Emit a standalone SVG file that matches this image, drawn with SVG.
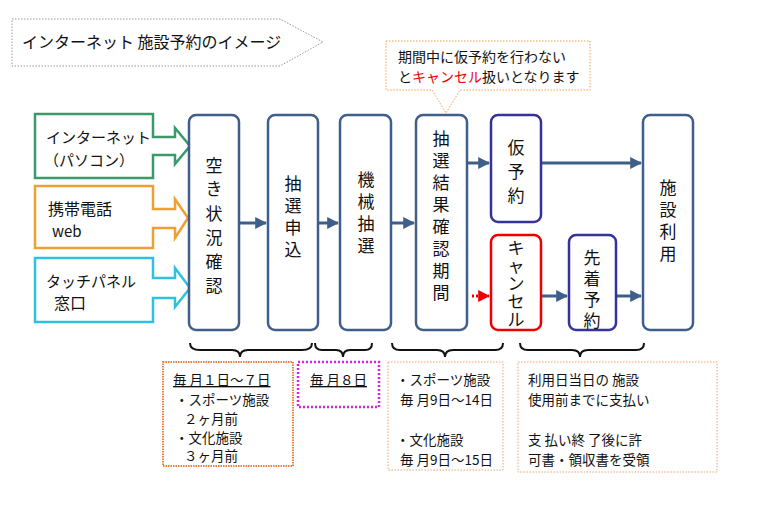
<svg xmlns="http://www.w3.org/2000/svg" width="771" height="506" viewBox="0 0 771 506">
<defs>
<style>
text{font-family:"Noto Sans CJK JP","Liberation Sans",sans-serif;fill:#111}
.tb{fill:#fff;stroke:#3f5f8a;stroke-width:2.5}
.v{font-size:17px;text-anchor:middle}
.c{stroke:#3f5f8a;stroke-width:3;fill:none}
.s{font-size:13.5px}
.br{fill:none;stroke:#111;stroke-width:2}
</style>
<marker id="ah" viewBox="0 0 10 10" refX="9" refY="5" markerWidth="4" markerHeight="4" orient="auto"><path d="M0,0L10,5L0,10Z" fill="#3f5f8a"/></marker>
<marker id="ar" viewBox="0 0 10 10" refX="9" refY="5" markerWidth="4" markerHeight="4" orient="auto"><path d="M0,0L10,5L0,10Z" fill="#e00"/></marker>
</defs>
<rect width="771" height="506" fill="#fff"/>
<g id="title">
<path d="M12,19H280L323,42L280,66H12Z" fill="#fff" stroke="#999" stroke-dasharray="1.5,1.5"/>
<text x="22" y="48" font-size="16">インターネット 施設予約のイメージ</text>
</g>
<g id="callout">
<path d="M386,41H590V90H460L446,113L432,90H386Z" fill="#fff" stroke="#f0a050" stroke-dasharray="1.5,1.5"/>
<text x="398" y="62" font-size="14">期間中に仮予約を行わない</text>
<text x="398" y="82" font-size="14">と<tspan fill="#e00">キャンセル</tspan>扱いとなります</text>
</g>
<g id="internet">
<path d="M35,114H153V137H175V128L190,146L175,164V155H153V178H35Z" fill="#fff" stroke="#3a9a6a" stroke-width="2.5"/>
<text x="46" y="143" font-size="15">インターネット</text><text x="44" y="166" font-size="15">（パソコン）</text>
</g>
<g id="mobile">
<path d="M35,186H153V209H175V199L188,218L175,238V228H153V248H35Z" fill="#fff" stroke="#f0a030" stroke-width="2.5"/>
<text x="48" y="215" font-size="16">携帯電話</text><text x="52" y="237" font-size="15">web</text>
</g>
<g id="touch">
<path d="M35,258H153V278H175V268L190,288L175,307V298H153V322H35Z" fill="#fff" stroke="#30c0e0" stroke-width="2.5"/>
<text x="46" y="287" font-size="15">タッチパネル</text><text x="54" y="309" font-size="16">窓口</text>
</g>
<g id="connectors">
<line class="c" x1="239" y1="223" x2="266" y2="223" marker-end="url(#ah)"/>
<line class="c" x1="318" y1="223" x2="338" y2="223" marker-end="url(#ah)"/>
<line class="c" x1="391" y1="223" x2="414" y2="223" marker-end="url(#ah)"/>
<line class="c" x1="467" y1="163" x2="489" y2="163" marker-end="url(#ah)"/>
<line class="c" x1="541" y1="163" x2="641" y2="163" marker-end="url(#ah)"/>
<line x1="472" y1="296" x2="489" y2="296" stroke="#e00" stroke-width="3" stroke-dasharray="2,2" marker-end="url(#ar)"/>
<line class="c" x1="541" y1="296" x2="567" y2="296" marker-end="url(#ah)"/>
<line class="c" x1="616" y1="296" x2="641" y2="296" marker-end="url(#ah)"/>
</g>
<g id="n1"><rect class="tb" x="189" y="115" width="50" height="215" rx="7"/>
<text class="v" x="214"><tspan x="214" y="172">空</tspan><tspan x="214" y="195">き</tspan><tspan x="214" y="220">状</tspan><tspan x="214" y="244">況</tspan><tspan x="214" y="268">確</tspan><tspan x="214" y="292">認</tspan></text></g>
<g id="n2"><rect class="tb" x="268" y="115" width="50" height="215" rx="7"/>
<text class="v"><tspan x="293" y="190">抽</tspan><tspan x="293" y="212">選</tspan><tspan x="293" y="234">申</tspan><tspan x="293" y="256">込</tspan></text></g>
<g id="n3"><rect class="tb" x="340" y="115" width="51" height="215" rx="7"/>
<text class="v"><tspan x="366" y="186">機</tspan><tspan x="366" y="208">械</tspan><tspan x="366" y="230">抽</tspan><tspan x="366" y="252">選</tspan></text></g>
<g id="n4"><rect class="tb" x="416" y="115" width="51" height="215" rx="7"/>
<text class="v"><tspan x="441" y="145">抽</tspan><tspan x="441" y="167">選</tspan><tspan x="441" y="189">結</tspan><tspan x="441" y="211">果</tspan><tspan x="441" y="233">確</tspan><tspan x="441" y="255">認</tspan><tspan x="441" y="277">期</tspan><tspan x="441" y="299">間</tspan></text></g>
<g id="n5"><rect x="491" y="115" width="50" height="107" rx="7" fill="#fff" stroke="#333399" stroke-width="2.5"/>
<text class="v" font-size="21"><tspan x="516" y="154">仮</tspan><tspan x="516" y="178">予</tspan><tspan x="516" y="202">約</tspan></text></g>
<g id="n6"><rect x="491" y="235" width="50" height="95" rx="7" fill="#fff" stroke="#e00" stroke-width="2.5"/>
<text class="v" font-size="16"><tspan x="516" y="254">キ</tspan><tspan x="516" y="272">ャ</tspan><tspan x="516" y="290">ン</tspan><tspan x="516" y="308">セ</tspan><tspan x="516" y="326">ル</tspan></text></g>
<g id="n7"><rect x="569" y="235" width="47" height="95" rx="7" fill="#fff" stroke="#333399" stroke-width="2.5"/>
<text class="v"><tspan x="592" y="264">先</tspan><tspan x="592" y="285">着</tspan><tspan x="592" y="306">予</tspan><tspan x="592" y="327">約</tspan></text></g>
<g id="n8"><rect class="tb" x="643" y="115" width="50" height="215" rx="7"/>
<text class="v"><tspan x="668" y="194">施</tspan><tspan x="668" y="216">設</tspan><tspan x="668" y="238">利</tspan><tspan x="668" y="260">用</tspan></text></g>
<g id="braces">
<path class="br" d="M190,343Q190,350 200,350H232Q240,350 240,357Q240,350 248,350H302Q312,350 312,343"/>
<path class="br" d="M315,343Q315,350 322,350H336Q343,350 343,357Q343,350 350,350H365Q372,350 372,343"/>
<path class="br" d="M392,343Q392,350 400,350H437Q445,350 445,357Q445,350 453,350H495Q503,350 503,343"/>
<path class="br" d="M520,343Q520,350 528,350H572Q580,350 580,357Q580,350 588,350H636Q644,350 644,343"/>
</g>
<g id="b1"><rect x="163" y="362" width="130" height="104" fill="#fff" stroke="#f08040" stroke-width="2" stroke-dasharray="1.5,1"/>
<text class="s" x="173" y="385" text-decoration="underline">毎 月１日～７日</text>
<text class="s" x="175" y="405">・スポーツ施設</text><text class="s" x="184" y="424">２ヶ月前</text>
<text class="s" x="175" y="443">・文化施設</text><text class="s" x="184" y="461">３ヶ月前</text></g>
<g id="b2"><rect x="298" y="362" width="81" height="45" fill="#fff" stroke="#e020e0" stroke-width="2.5" stroke-dasharray="2,2"/>
<text class="s" x="310" y="385" text-decoration="underline">毎 月８日</text></g>
<g id="b3"><rect x="388" y="362" width="115" height="108" fill="#fff" stroke="#f0a070" stroke-dasharray="1.5,1.5"/>
<text class="s" x="396" y="385">・スポーツ施設</text><text class="s" x="400" y="405">毎 月9日～14日</text>
<text class="s" x="396" y="445">・文化施設</text><text class="s" x="400" y="465">毎 月9日～15日</text></g>
<g id="b4"><rect x="518" y="362" width="199" height="110" fill="#fff" stroke="#f0a070" stroke-dasharray="1.5,1.5"/>
<text class="s" x="528" y="385">利用日当日の 施設</text><text class="s" x="528" y="405">使用前までに支払い</text>
<text class="s" x="528" y="445">支 払い終 了後に許</text><text class="s" x="528" y="465">可書・領収書を受領</text></g>
</svg>
